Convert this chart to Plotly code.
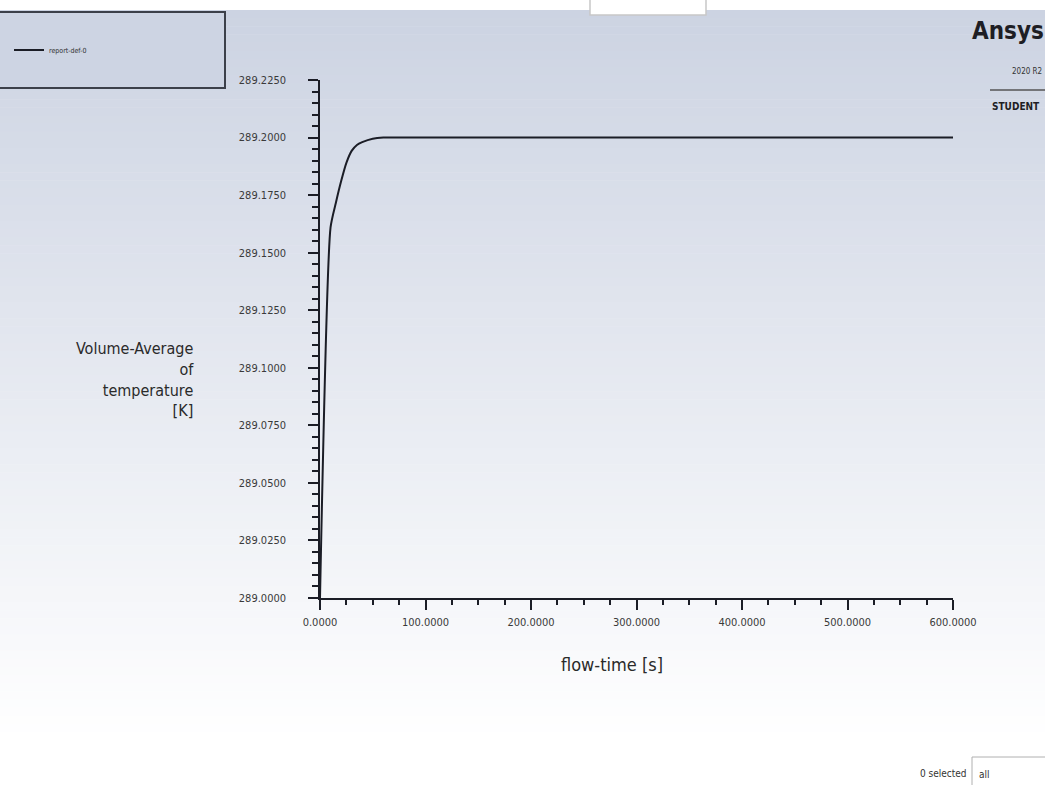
import plotly.graph_objects as go

# ---- data ----
flow_time = [0, 10, 15, 20, 25, 30, 35, 40, 50, 60, 100, 200, 300, 400, 500, 600]
vol_avg_temp = [289.0, 289.161, 289.1716, 289.181, 289.189, 289.1942, 289.1968,
                289.198, 289.1995, 289.2, 289.2, 289.2, 289.2, 289.2, 289.2, 289.2]
series_name = "report-def-0"
x_ticks = [0, 100, 200, 300, 400, 500, 600]
y_ticks = [289.0, 289.025, 289.05, 289.075, 289.1, 289.125, 289.15, 289.175, 289.2, 289.225]

W, H = 1045, 785
def px(x): return x / W
def py(y): return 1 - y / H

FONT = "DejaVu Sans Condensed, Liberation Sans Narrow, sans-serif"

fig = go.Figure()
fig.add_trace(go.Scatter(
    x=flow_time, y=vol_avg_temp, mode="lines", name=series_name,
    line=dict(color="#1b1d26", width=2, shape="spline", smoothing=0.6),
    showlegend=True,
))

shapes = []
# gradient background stripes
n = 90
top, bot = 10, 740
c0 = (204, 211, 226)
for i in range(n):
    y0 = top + (bot - top) * i / n
    y1 = top + (bot - top) * (i + 1) / n + 0.5
    t = (i + 0.5) / n
    c = tuple(int(round(a + (255 - a) * t)) for a in c0)
    shapes.append(dict(type="rect", xref="paper", yref="paper", layer="below",
                       x0=0, x1=1, y0=py(y1), y1=py(y0), line=dict(width=0),
                       fillcolor="rgb(%d,%d,%d)" % c))
# white window at top
shapes.append(dict(type="rect", xref="paper", yref="paper", layer="below",
                   x0=px(590), x1=px(706), y0=py(15), y1=1.01,
                   fillcolor="white", line=dict(color="#c8c8c8", width=1.5)))
# legend box
shapes.append(dict(type="rect", xref="paper", yref="paper", layer="below",
                   x0=px(-5), x1=px(225), y0=py(88), y1=py(12),
                   fillcolor="rgba(205,212,227,1)", line=dict(color="#3c404a", width=2)))
# Ansys separator line
shapes.append(dict(type="line", xref="paper", yref="paper",
                   x0=px(990), x1=px(1045), y0=py(90), y1=py(90),
                   line=dict(color="#555", width=1.5)))
# "all" box
shapes.append(dict(type="rect", xref="paper", yref="paper",
                   x0=px(972), x1=px(1046), y0=py(786), y1=py(757),
                   fillcolor="white", line=dict(color="#b0b0b0", width=1)))

annotations = [
    dict(text="Volume-Average<br>of<br>temperature<br>[K]", xref="paper", yref="paper",
         x=px(196), y=py(379), xanchor="right", yanchor="middle", align="right",
         showarrow=False, font=dict(family=FONT, size=16, color="#2a2a2a")),
    dict(text="flow-time [s]", xref="paper", yref="paper",
         x=px(612), y=py(664), xanchor="center", yanchor="middle",
         showarrow=False, font=dict(family=FONT, size=18, color="#2a2a2a")),
    dict(text="<b>Ansys</b>", xref="paper", yref="paper",
         x=px(1046), y=py(31), xanchor="right", yanchor="middle",
         showarrow=False, font=dict(family=FONT, size=24, color="#1e1e24")),
    dict(text="2020 R2", xref="paper", yref="paper",
         x=px(1044), y=py(72), xanchor="right", yanchor="middle",
         showarrow=False, font=dict(family=FONT, size=8, color="#333")),
    dict(text="<b>STUDENT</b>", xref="paper", yref="paper",
         x=px(990), y=py(107), xanchor="left", yanchor="middle",
         showarrow=False, font=dict(family=FONT, size=10, color="#1e1e24")),
    dict(text="0 selected", xref="paper", yref="paper",
         x=px(969), y=py(773), xanchor="right", yanchor="middle",
         showarrow=False, font=dict(family=FONT, size=10, color="#333")),
    dict(text="all", xref="paper", yref="paper",
         x=px(977), y=py(774), xanchor="left", yanchor="middle",
         showarrow=False, font=dict(family=FONT, size=10, color="#333")),
]

axis_common = dict(
    showline=True, linecolor="#1b1d26", linewidth=1.5,
    ticks="outside", tickcolor="#1b1d26", tickwidth=2, ticklen=10,
    showgrid=False, zeroline=False, tickformat=".4f",
    tickfont=dict(family=FONT, size=11, color="#3a3a3a"),
)

fig.update_layout(
    width=W, height=H, margin=dict(l=0, r=0, t=0, b=0, autoexpand=False),
    paper_bgcolor="white", plot_bgcolor="rgba(0,0,0,0)",
    shapes=shapes, annotations=annotations,
    xaxis=dict(domain=[px(320), px(953)], range=[0, 600], tickvals=x_ticks,
               minor=dict(dtick=25, ticks="outside", ticklen=5, tickwidth=2, tickcolor="#1b1d26"),
               ticklabelstandoff=3, **axis_common),
    yaxis=dict(domain=[py(598), py(80)], range=[289.0, 289.225], tickvals=y_ticks,
               minor=dict(dtick=0.005, ticks="outside", ticklen=6, tickwidth=2, tickcolor="#1b1d26"),
               ticklabelstandoff=20, **axis_common),
    showlegend=True,
    legend=dict(x=px(9), y=py(50), xanchor="left", yanchor="middle",
                bgcolor="rgba(0,0,0,0)", borderwidth=0,
                font=dict(family=FONT, size=7, color="#333")),
)

fig.write_html("out.html")
